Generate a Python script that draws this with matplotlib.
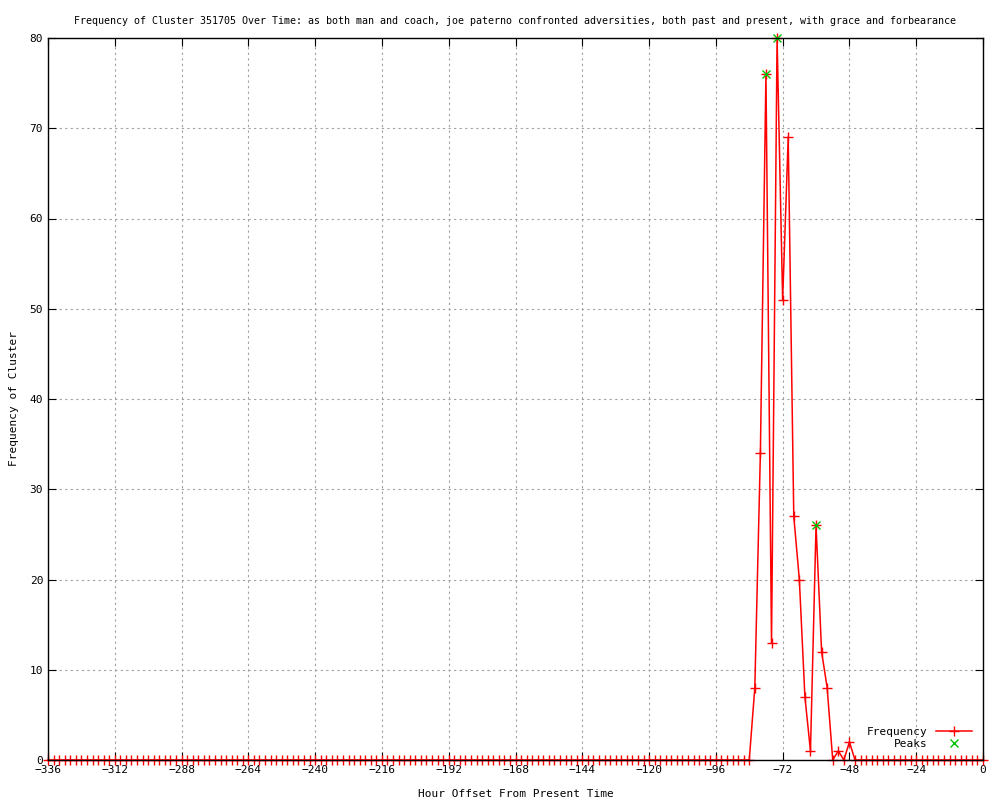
import numpy as np
import matplotlib
matplotlib.use("Agg")
import matplotlib.pyplot as plt

plt.rcParams['font.family'] = ['DejaVu Sans Mono']

# hour offsets, every 2 hours from -336 to 0
hours = list(range(-336, 1, 2))
# nonzero counts
active = {-82: 8, -80: 34, -78: 76, -76: 13, -74: 80, -72: 51, -70: 69,
          -68: 27, -66: 20, -64: 7, -62: 1, -60: 26, -58: 12, -56: 8,
          -54: 0, -52: 1, -50: 0, -48: 2}
freq = [active.get(h, 0) for h in hours]

peak_hours = [-78, -74, -60]
peak_vals = [76, 80, 26]

title = ("Frequency of Cluster 351705 Over Time: as both man and coach, joe paterno "
         "confronted adversities, both past and present, with grace and forbearance")

fig = plt.figure(figsize=(10, 8), dpi=100)
ax = fig.add_axes([0.048, 0.05, 0.935, 0.9025])

ax.plot(hours, freq, color="#ff0000", lw=1.1, marker="+", ms=7, mew=1,
        label="Frequency", clip_on=False, zorder=2)
ax.plot(peak_hours, peak_vals, ls="none", color="#00c000", marker="x", ms=6,
        mew=1, label="Peaks", clip_on=False, zorder=2.2)

ax.set_xlim(-336, 0)
ax.set_ylim(0, 80)
ax.set_xticks(np.arange(-336, 1, 24))
ax.set_yticks(np.arange(0, 81, 10))
ax.tick_params(direction="in", top=True, right=True, length=6, labelsize=8)
ax.grid(True, color="#a0a0a0", ls=(0, (2, 3)), lw=0.8)
for s in ax.spines.values():
    s.set_linewidth(1)
    s.set_zorder(3)

ax.set_title(title, fontsize=7.2, pad=10)
ax.set_xlabel("Hour Offset From Present Time", fontsize=8, labelpad=10)
ax.set_ylabel("Frequency of Cluster", fontsize=8, labelpad=8)

ax.legend(loc="lower right", frameon=False, markerfirst=False, fontsize=8,
          handlelength=3.2, borderaxespad=0.6, labelspacing=0.2)

fig.savefig("out.png", dpi=100)
